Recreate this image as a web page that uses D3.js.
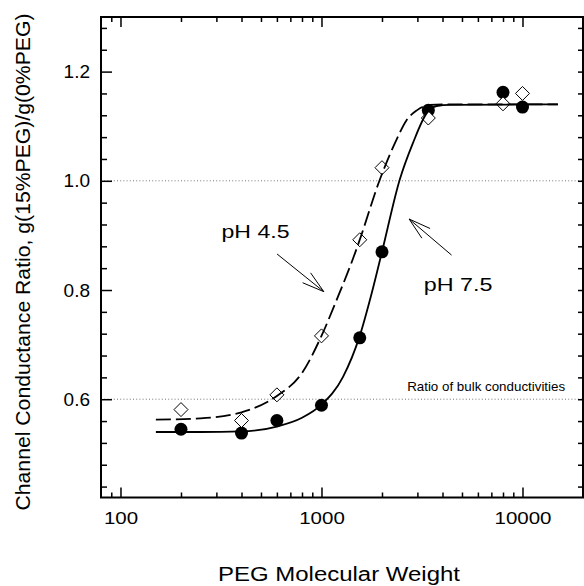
<!DOCTYPE html>
<html>
<head>
<meta charset="utf-8">
<script src="https://cdn.jsdelivr.net/npm/d3@7"></script>
<style>
body { margin: 0; background: #fff; }
svg { display: block; font-family: 'Liberation Sans', Arial, sans-serif; }
</style>
</head>
<body>
<svg id="chart" width="584" height="586"></svg>
<script>
// DATA
// measured points, PEG molecular weight vs g(15%PEG)/g(0%PEG)
var peg_mw = [200, 400, 600, 1000, 1550, 2000, 3400, 8000, 10000];
var ratio_ph75 = [0.545, 0.538, 0.561, 0.589, 0.7125, 0.870, 1.129, 1.162, 1.135];
var ratio_ph45 = [0.581, 0.561, 0.608, 0.716, 0.892, 1.024, 1.115, 1.141, 1.160];

// fitted curves
var fit_mw_ph75 = [150, 250, 400, 600, 800, 1000, 1280, 1550, 1780, 2000, 2450, 2850, 3340, 3740, 4350, 15000];
var fit_ph75 = [0.540, 0.540, 0.541, 0.550, 0.566, 0.590, 0.641, 0.716, 0.795, 0.870, 1.002, 1.069, 1.124, 1.137, 1.139, 1.140];
var fit_mw_ph45 = [150, 250, 400, 600, 800, 1000, 1190, 1440, 1550, 1950, 2360, 2650, 2980, 3450, 4350, 15000];
var fit_ph45 = [0.5625, 0.565, 0.576, 0.606, 0.648, 0.716, 0.782, 0.859, 0.892, 1.002, 1.075, 1.111, 1.129, 1.139, 1.140, 1.140];

// ticks
var x_major = [100, 1000, 10000];
var x_minor = [90, 200, 300, 400, 500, 600, 700, 800, 900, 2000, 3000, 4000, 5000, 6000, 7000, 8000, 9000, 20000];
var y_major = [0.6, 0.8, 1.0, 1.2];
var y_minor = [0.44, 0.48, 0.52, 0.56, 0.64, 0.68, 0.72, 0.76, 0.84, 0.88, 0.92, 0.96, 1.04, 1.08, 1.12, 1.16, 1.24, 1.28];
var ref_lines = [1.0, 0.6];

// annotations, in data units
var label_text = ['pH 4.5', 'pH 7.5', 'Ratio of bulk conductivities'];
var label_mw = [318, 3229, 2668];
var label_ratio = [0.8946, 0.799, 0.6156];
var arrow_from = [[601, 0.866], [4436, 0.864]];
var arrow_to = [[1027, 0.797], [2729, 0.930]];

// CHART
var chrt = {
    config: {
        left: 101, right: 583, top: 17, bottom: 497.5
    },
    build_chart: function() {
        var c = this.config;
        var svg = d3.select('svg#chart');
        var x = d3.scaleLog().domain([80, 20000]).range([c.left, c.right]);
        var y = d3.scaleLinear().domain([0.42, 1.30]).range([c.bottom, c.top]);

        // dotted reference lines
        svg.selectAll('line.ref')
            .data(ref_lines)
            .enter().append('line')
            .attr('class', 'ref')
            .attr('x1', c.left).attr('x2', c.right)
            .attr('y1', function(d) { return y(d); })
            .attr('y2', function(d) { return y(d); })
            .attr('stroke', '#777')
            .attr('stroke-width', 1)
            .attr('stroke-dasharray', '1,2.2');

        // axes, ticks point inward
        var ax = function(axis, tx) {
            var g = svg.append('g').attr('transform', tx).call(axis);
            g.select('.domain').remove();
            g.selectAll('line').attr('stroke', '#000').attr('stroke-width', 1.5);
            return g;
        };
        var xb = ax(d3.axisBottom(x).tickValues(x_major).tickSize(-10).tickPadding(14)
            .tickFormat(d3.format('d')), 'translate(0,' + c.bottom + ')');
        xb.selectAll('text')
            .attr('font-size', 17)
            .attr('font-family', 'Liberation Sans, Arial, sans-serif')
            .attr('textLength', function(d) { return String(d).length * 11.4; })
            .attr('lengthAdjust', 'spacingAndGlyphs');
        ax(d3.axisBottom(x).tickValues(x_minor).tickSize(-5).tickFormat(''), 'translate(0,' + c.bottom + ')');
        ax(d3.axisTop(x).tickValues(x_major).tickSize(-10).tickFormat(''), 'translate(0,' + c.top + ')');
        ax(d3.axisTop(x).tickValues(x_minor).tickSize(-5).tickFormat(''), 'translate(0,' + c.top + ')');

        var yl = ax(d3.axisLeft(y).tickValues(y_major).tickSize(-11).tickPadding(11)
            .tickFormat(d3.format('.1f')), 'translate(' + c.left + ',0)');
        yl.selectAll('text')
            .attr('font-size', 19)
            .attr('font-family', 'Liberation Sans, Arial, sans-serif');
        ax(d3.axisLeft(y).tickValues(y_minor).tickSize(-6).tickFormat(''), 'translate(' + c.left + ',0)');
        ax(d3.axisRight(y).tickValues(y_major.concat(y_minor)).tickSize(-5).tickFormat(''), 'translate(' + c.right + ',0)');

        // frame
        svg.append('rect')
            .attr('x', c.left).attr('y', c.top)
            .attr('width', c.right - c.left).attr('height', c.bottom - c.top)
            .attr('fill', 'none')
            .attr('stroke', '#000')
            .attr('stroke-width', 2);

        // markers
        svg.selectAll('circle.ph75')
            .data(peg_mw)
            .enter().append('circle')
            .attr('class', 'ph75')
            .attr('cx', function(d) { return x(d); })
            .attr('cy', function(d, i) { return y(ratio_ph75[i]); })
            .attr('r', 6.5)
            .attr('fill', '#000');

        svg.selectAll('path.ph45')
            .data(peg_mw)
            .enter().append('path')
            .attr('class', 'ph45')
            .attr('d', 'M0,-7L7,0L0,7L-7,0Z')
            .attr('transform', function(d, i) { return 'translate(' + x(d) + ',' + y(ratio_ph45[i]) + ')'; })
            .attr('fill', '#fff')
            .attr('stroke', '#000')
            .attr('stroke-width', 1);

        // fit curves
        var line = d3.line()
            .x(function(d) { return x(d[0]); })
            .y(function(d) { return y(d[1]); })
            .curve(d3.curveMonotoneX);

        svg.append('path')
            .datum(d3.zip(fit_mw_ph45, fit_ph45))
            .attr('d', line)
            .attr('fill', 'none')
            .attr('stroke', '#000')
            .attr('stroke-width', 1.8)
            .attr('stroke-dasharray', '15,5');

        svg.append('path')
            .datum(d3.zip(fit_mw_ph75, fit_ph75))
            .attr('d', line)
            .attr('fill', 'none')
            .attr('stroke', '#000')
            .attr('stroke-width', 1.8);

        // labels
        var sizes = [19, 19, 13];
        var lens = [68, 68.7, 158];
        svg.selectAll('text.lbl')
            .data(label_text)
            .enter().append('text')
            .attr('class', 'lbl')
            .attr('x', function(d, i) { return x(label_mw[i]); })
            .attr('y', function(d, i) { return y(label_ratio[i]); })
            .attr('font-size', function(d, i) { return sizes[i]; })
            .attr('textLength', function(d, i) { return lens[i]; })
            .attr('lengthAdjust', 'spacingAndGlyphs')
            .text(function(d) { return d; });

        // open arrows
        arrow_from.forEach(function(f, i) {
            var t = arrow_to[i];
            var x0 = x(f[0]), y0 = y(f[1]), x1 = x(t[0]), y1 = y(t[1]);
            var a = Math.atan2(y0 - y1, x0 - x1);
            var L = 23, th = 0.28;
            var p = d3.path();
            p.moveTo(x0, y0); p.lineTo(x1, y1);
            p.moveTo(x1 + L * Math.cos(a + th), y1 + L * Math.sin(a + th));
            p.lineTo(x1, y1);
            p.lineTo(x1 + L * Math.cos(a - th), y1 + L * Math.sin(a - th));
            svg.append('path')
                .attr('d', p.toString())
                .attr('fill', 'none')
                .attr('stroke', '#000')
                .attr('stroke-width', 1);
        });

        // axis titles
        svg.append('text')
            .attr('x', 339).attr('y', 581)
            .attr('text-anchor', 'middle')
            .attr('font-size', 20)
            .attr('textLength', 242)
            .attr('lengthAdjust', 'spacingAndGlyphs')
            .text('PEG Molecular Weight');

        svg.append('text')
            .attr('transform', 'translate(29.5,262) rotate(-90)')
            .attr('text-anchor', 'middle')
            .attr('font-size', 21)
            .attr('textLength', 497)
            .attr('lengthAdjust', 'spacingAndGlyphs')
            .text('Channel Conductance Ratio, g(15%PEG)/g(0%PEG)');
    },
    init: function() {
        chrt.build_chart();
    }
}

chrt.init();
</script>
</body>
</html>
